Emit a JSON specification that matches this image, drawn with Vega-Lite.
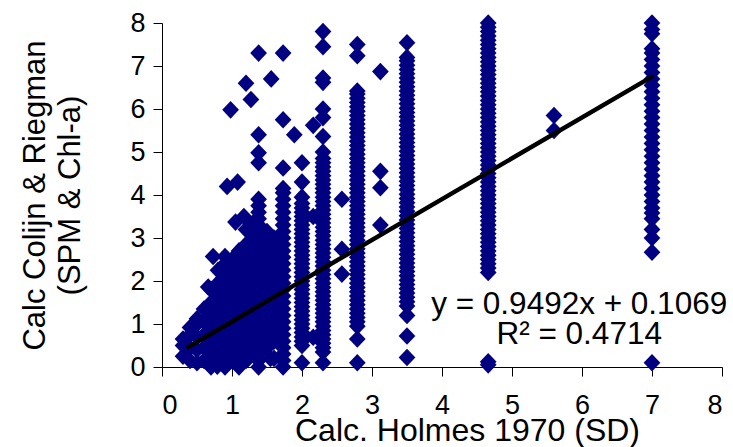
{
  "$schema": "https://vega.github.io/schema/vega-lite/v6.json",
  "autosize": "none",
  "width": 560,
  "height": 344,
  "padding": {"left": 162, "top": 23, "right": 11, "bottom": 80},
  "background": "white",
  "config": {
    "view": {"stroke": null},
    "font": "Liberation Sans",
    "axis": {
      "grid": false,
      "domainColor": "#000000",
      "tickColor": "#000000",
      "labelColor": "#000000",
      "titleColor": "#000000",
      "labelFont": "Liberation Sans",
      "titleFont": "Liberation Sans",
      "titleFontWeight": "normal",
      "labelFontSize": 27,
      "titleFontSize": 31,
      "tickSize": 9,
      "domainWidth": 1,
      "tickWidth": 1
    }
  },
  "datasets": {
    "pts": [
      {"x":0.3,"y":0.25},{"x":0.3,"y":0.5},{"x":0.3,"y":0.65},
      {"x":0.4,"y":0.15},{"x":0.4,"y":0.45},{"x":0.4,"y":0.75},{"x":0.4,"y":0.92},
      {"x":0.5,"y":0.1},{"x":0.5,"y":0.4},{"x":0.5,"y":0.7},{"x":0.5,"y":1.0},{"x":0.5,"y":1.12},
      {"x":0.6,"y":0.15},{"x":0.6,"y":0.45},{"x":0.6,"y":0.75},{"x":0.6,"y":1.05},{"x":0.6,"y":1.35},
      {"x":0.66,"y":1.86},{"x":0.73,"y":2.57},
      {"x":0.7,"y":0.0},{"x":0.7,"y":0.3},{"x":0.7,"y":0.6},{"x":0.7,"y":0.9},{"x":0.7,"y":1.2},{"x":0.7,"y":1.5},{"x":0.7,"y":1.8},
      {"x":0.8,"y":0.15},{"x":0.8,"y":0.45},{"x":0.8,"y":0.75},{"x":0.8,"y":1.05},{"x":0.8,"y":1.35},{"x":0.8,"y":1.65},{"x":0.8,"y":1.95},{"x":0.8,"y":2.25},
      {"x":0.9,"y":0.0},{"x":0.9,"y":0.3},{"x":0.9,"y":0.6},{"x":0.9,"y":0.9},{"x":0.9,"y":1.2},{"x":0.9,"y":1.5},{"x":0.9,"y":1.8},{"x":0.9,"y":2.1},{"x":0.9,"y":2.4},{"x":0.9,"y":2.57},
      {"x":1.0,"y":0.15},{"x":1.0,"y":0.45},{"x":1.0,"y":0.75},{"x":1.0,"y":1.05},{"x":1.0,"y":1.35},{"x":1.0,"y":1.65},{"x":1.0,"y":1.95},{"x":1.0,"y":2.25},{"x":1.0,"y":2.5},
      {"x":1.1,"y":0.0},{"x":1.1,"y":0.3},{"x":1.1,"y":0.6},{"x":1.1,"y":0.9},{"x":1.1,"y":1.2},{"x":1.1,"y":1.5},{"x":1.1,"y":1.8},{"x":1.1,"y":2.1},{"x":1.1,"y":2.4},{"x":1.1,"y":2.7},
      {"x":1.2,"y":0.15},{"x":1.2,"y":0.45},{"x":1.2,"y":0.75},{"x":1.2,"y":1.05},{"x":1.2,"y":1.35},{"x":1.2,"y":1.65},{"x":1.2,"y":1.95},{"x":1.2,"y":2.25},{"x":1.2,"y":2.55},{"x":1.2,"y":2.85},{"x":1.2,"y":3.2},
      {"x":1.3,"y":0.3},{"x":1.3,"y":0.6},{"x":1.3,"y":0.9},{"x":1.3,"y":1.2},{"x":1.3,"y":1.5},{"x":1.3,"y":1.8},{"x":1.3,"y":2.1},{"x":1.3,"y":2.4},{"x":1.3,"y":2.7},{"x":1.3,"y":3.0},{"x":1.3,"y":3.35},
      {"x":1.38,"y":0.0},{"x":1.38,"y":0.15},{"x":1.38,"y":0.3},{"x":1.38,"y":0.45},{"x":1.38,"y":0.6},{"x":1.38,"y":0.75},{"x":1.38,"y":0.9},{"x":1.38,"y":1.05},{"x":1.38,"y":1.2},{"x":1.38,"y":1.35},{"x":1.38,"y":1.5},{"x":1.38,"y":1.65},{"x":1.38,"y":1.8},{"x":1.38,"y":1.95},{"x":1.38,"y":2.1},{"x":1.38,"y":2.25},{"x":1.38,"y":2.4},{"x":1.38,"y":2.55},{"x":1.38,"y":2.7},{"x":1.38,"y":2.85},{"x":1.38,"y":3.0},{"x":1.38,"y":3.15},{"x":1.38,"y":3.3},{"x":1.38,"y":3.45},{"x":1.38,"y":3.6},{"x":1.38,"y":3.75},{"x":1.38,"y":3.9},{"x":1.38,"y":4.75},{"x":1.38,"y":4.98},{"x":1.38,"y":5.4},{"x":1.38,"y":7.3},
      {"x":1.5,"y":0.45},{"x":1.5,"y":0.75},{"x":1.5,"y":1.05},{"x":1.5,"y":1.35},{"x":1.5,"y":1.65},{"x":1.5,"y":1.95},{"x":1.5,"y":2.25},{"x":1.5,"y":2.55},{"x":1.5,"y":2.85},{"x":1.5,"y":3.15},
      {"x":1.23,"y":0.2},{"x":1.55,"y":0.2},{"x":0.79,"y":0.02},
      {"x":1.6,"y":0.2},{"x":1.6,"y":0.6},{"x":1.6,"y":0.9},{"x":1.6,"y":1.2},{"x":1.6,"y":1.5},{"x":1.6,"y":1.8},{"x":1.6,"y":2.1},{"x":1.6,"y":2.4},{"x":1.6,"y":2.7},{"x":1.6,"y":3.0},
      {"x":1.73,"y":0.0},{"x":1.73,"y":0.15},{"x":1.73,"y":0.3},{"x":1.73,"y":0.45},{"x":1.73,"y":0.6},{"x":1.73,"y":0.75},{"x":1.73,"y":0.9},{"x":1.73,"y":1.05},{"x":1.73,"y":1.2},{"x":1.73,"y":1.35},{"x":1.73,"y":1.5},{"x":1.73,"y":1.65},{"x":1.73,"y":1.8},{"x":1.73,"y":1.95},{"x":1.73,"y":2.1},{"x":1.73,"y":2.25},{"x":1.73,"y":2.4},{"x":1.73,"y":2.55},{"x":1.73,"y":2.7},{"x":1.73,"y":2.85},{"x":1.73,"y":3.0},{"x":1.73,"y":3.15},{"x":1.73,"y":3.3},{"x":1.73,"y":3.45},{"x":1.73,"y":3.6},{"x":1.73,"y":3.75},{"x":1.73,"y":3.9},{"x":1.73,"y":4.05},{"x":1.73,"y":4.15},{"x":1.73,"y":4.63},{"x":1.73,"y":5.75},{"x":1.73,"y":7.3},
      {"x":0.93,"y":4.2},{"x":1.08,"y":4.3},{"x":1.2,"y":6.6},{"x":1.27,"y":6.22},{"x":0.98,"y":5.98},{"x":1.56,"y":6.7},{"x":1.89,"y":5.4},{"x":1.17,"y":3.5},{"x":1.05,"y":3.37},{"x":1.58,"y":3.0},
      {"x":2.0,"y":0.1},{"x":2.0,"y":0.5},{"x":2.0,"y":0.6},{"x":2.0,"y":0.7},{"x":2.0,"y":0.8},{"x":2.0,"y":0.9},{"x":2.0,"y":1.0},{"x":2.0,"y":1.1},{"x":2.0,"y":1.2},{"x":2.0,"y":1.3},{"x":2.0,"y":1.4},{"x":2.0,"y":1.5},{"x":2.0,"y":1.6},{"x":2.0,"y":1.7},{"x":2.0,"y":1.8},{"x":2.0,"y":1.9},{"x":2.0,"y":2.0},{"x":2.0,"y":2.1},{"x":2.0,"y":2.2},{"x":2.0,"y":2.3},{"x":2.0,"y":2.4},{"x":2.0,"y":2.5},{"x":2.0,"y":2.6},{"x":2.0,"y":2.7},{"x":2.0,"y":2.8},{"x":2.0,"y":2.9},{"x":2.0,"y":3.0},{"x":2.0,"y":3.1},{"x":2.0,"y":3.2},{"x":2.0,"y":3.3},{"x":2.0,"y":3.4},{"x":2.0,"y":3.5},{"x":2.0,"y":3.6},{"x":2.0,"y":3.7},{"x":2.0,"y":3.8},{"x":2.0,"y":3.95},{"x":2.0,"y":4.3},{"x":2.0,"y":4.75},
      {"x":2.16,"y":0.69},{"x":2.16,"y":3.5},{"x":2.16,"y":5.62},
      {"x":2.3,"y":0.1},{"x":2.3,"y":0.35},{"x":2.3,"y":0.45},{"x":2.3,"y":0.55},{"x":2.3,"y":0.65},{"x":2.3,"y":0.75},{"x":2.3,"y":0.85},{"x":2.3,"y":0.95},{"x":2.3,"y":1.05},{"x":2.3,"y":1.15},{"x":2.3,"y":1.25},{"x":2.3,"y":1.35},{"x":2.3,"y":1.45},{"x":2.3,"y":1.55},{"x":2.3,"y":1.65},{"x":2.3,"y":1.75},{"x":2.3,"y":1.85},{"x":2.3,"y":1.95},{"x":2.3,"y":2.05},{"x":2.3,"y":2.15},{"x":2.3,"y":2.25},{"x":2.3,"y":2.35},{"x":2.3,"y":2.45},{"x":2.3,"y":2.55},{"x":2.3,"y":2.65},{"x":2.3,"y":2.75},{"x":2.3,"y":2.85},{"x":2.3,"y":2.95},{"x":2.3,"y":3.05},{"x":2.3,"y":3.15},{"x":2.3,"y":3.25},{"x":2.3,"y":3.35},{"x":2.3,"y":3.45},{"x":2.3,"y":3.55},{"x":2.3,"y":3.65},{"x":2.3,"y":3.75},{"x":2.3,"y":3.85},{"x":2.3,"y":3.95},{"x":2.3,"y":4.05},{"x":2.3,"y":4.15},{"x":2.3,"y":4.25},{"x":2.3,"y":4.35},{"x":2.3,"y":4.45},{"x":2.3,"y":4.55},{"x":2.3,"y":4.65},{"x":2.3,"y":4.75},{"x":2.3,"y":4.85},{"x":2.3,"y":5.0},{"x":2.3,"y":5.36},{"x":2.3,"y":5.8},{"x":2.3,"y":6.0},{"x":2.3,"y":6.62},{"x":2.3,"y":6.72},{"x":2.3,"y":7.45},{"x":2.3,"y":7.8},
      {"x":2.57,"y":2.16},{"x":2.57,"y":2.74},{"x":2.57,"y":3.9},
      {"x":2.79,"y":0.1},{"x":2.79,"y":0.65},{"x":2.79,"y":0.95},{"x":2.79,"y":1.05},{"x":2.79,"y":1.15},{"x":2.79,"y":1.25},{"x":2.79,"y":1.35},{"x":2.79,"y":1.45},{"x":2.79,"y":1.55},{"x":2.79,"y":1.65},{"x":2.79,"y":1.75},{"x":2.79,"y":1.85},{"x":2.79,"y":1.95},{"x":2.79,"y":2.05},{"x":2.79,"y":2.15},{"x":2.79,"y":2.25},{"x":2.79,"y":2.35},{"x":2.79,"y":2.45},{"x":2.79,"y":2.55},{"x":2.79,"y":2.65},{"x":2.79,"y":2.75},{"x":2.79,"y":2.85},{"x":2.79,"y":2.95},{"x":2.79,"y":3.05},{"x":2.79,"y":3.15},{"x":2.79,"y":3.25},{"x":2.79,"y":3.35},{"x":2.79,"y":3.45},{"x":2.79,"y":3.55},{"x":2.79,"y":3.65},{"x":2.79,"y":3.75},{"x":2.79,"y":3.85},{"x":2.79,"y":3.95},{"x":2.79,"y":4.05},{"x":2.79,"y":4.15},{"x":2.79,"y":4.25},{"x":2.79,"y":4.35},{"x":2.79,"y":4.45},{"x":2.79,"y":4.55},{"x":2.79,"y":4.65},{"x":2.79,"y":4.75},{"x":2.79,"y":4.85},{"x":2.79,"y":4.95},{"x":2.79,"y":5.05},{"x":2.79,"y":5.15},{"x":2.79,"y":5.25},{"x":2.79,"y":5.35},{"x":2.79,"y":5.45},{"x":2.79,"y":5.55},{"x":2.79,"y":5.65},{"x":2.79,"y":5.75},{"x":2.79,"y":5.85},{"x":2.79,"y":5.95},{"x":2.79,"y":6.05},{"x":2.79,"y":6.15},{"x":2.79,"y":6.25},{"x":2.79,"y":6.35},{"x":2.79,"y":6.42},{"x":2.79,"y":7.24},{"x":2.79,"y":7.5},
      {"x":3.12,"y":3.3},{"x":3.12,"y":4.17},{"x":3.12,"y":4.55},{"x":3.12,"y":6.87},
      {"x":3.5,"y":0.22},{"x":3.5,"y":0.72},{"x":3.5,"y":1.2},{"x":3.5,"y":1.42},{"x":3.5,"y":1.52},{"x":3.5,"y":1.62},{"x":3.5,"y":1.72},{"x":3.5,"y":1.82},{"x":3.5,"y":1.92},{"x":3.5,"y":2.02},{"x":3.5,"y":2.12},{"x":3.5,"y":2.22},{"x":3.5,"y":2.32},{"x":3.5,"y":2.42},{"x":3.5,"y":2.52},{"x":3.5,"y":2.62},{"x":3.5,"y":2.72},{"x":3.5,"y":2.82},{"x":3.5,"y":2.92},{"x":3.5,"y":3.02},{"x":3.5,"y":3.12},{"x":3.5,"y":3.22},{"x":3.5,"y":3.32},{"x":3.5,"y":3.42},{"x":3.5,"y":3.52},{"x":3.5,"y":3.62},{"x":3.5,"y":3.72},{"x":3.5,"y":3.82},{"x":3.5,"y":3.92},{"x":3.5,"y":4.02},{"x":3.5,"y":4.12},{"x":3.5,"y":4.22},{"x":3.5,"y":4.32},{"x":3.5,"y":4.42},{"x":3.5,"y":4.52},{"x":3.5,"y":4.62},{"x":3.5,"y":4.72},{"x":3.5,"y":4.82},{"x":3.5,"y":4.92},{"x":3.5,"y":5.02},{"x":3.5,"y":5.12},{"x":3.5,"y":5.22},{"x":3.5,"y":5.32},{"x":3.5,"y":5.42},{"x":3.5,"y":5.52},{"x":3.5,"y":5.62},{"x":3.5,"y":5.72},{"x":3.5,"y":5.82},{"x":3.5,"y":5.92},{"x":3.5,"y":6.02},{"x":3.5,"y":6.12},{"x":3.5,"y":6.22},{"x":3.5,"y":6.32},{"x":3.5,"y":6.42},{"x":3.5,"y":6.52},{"x":3.5,"y":6.62},{"x":3.5,"y":6.72},{"x":3.5,"y":6.82},{"x":3.5,"y":6.92},{"x":3.5,"y":7.02},{"x":3.5,"y":7.12},{"x":3.5,"y":7.2},{"x":3.5,"y":7.54},
      {"x":4.66,"y":0.05},{"x":4.66,"y":0.12},{"x":4.66,"y":2.2},{"x":4.66,"y":2.3},{"x":4.66,"y":2.4},{"x":4.66,"y":2.5},{"x":4.66,"y":2.6},{"x":4.66,"y":2.7},{"x":4.66,"y":2.8},{"x":4.66,"y":2.9},{"x":4.66,"y":3.0},{"x":4.66,"y":3.1},{"x":4.66,"y":3.2},{"x":4.66,"y":3.3},{"x":4.66,"y":3.4},{"x":4.66,"y":3.5},{"x":4.66,"y":3.6},{"x":4.66,"y":3.7},{"x":4.66,"y":3.8},{"x":4.66,"y":3.9},{"x":4.66,"y":4.0},{"x":4.66,"y":4.1},{"x":4.66,"y":4.2},{"x":4.66,"y":4.3},{"x":4.66,"y":4.4},{"x":4.66,"y":4.5},{"x":4.66,"y":4.6},{"x":4.66,"y":4.7},{"x":4.66,"y":4.8},{"x":4.66,"y":4.9},{"x":4.66,"y":5.0},{"x":4.66,"y":5.1},{"x":4.66,"y":5.2},{"x":4.66,"y":5.3},{"x":4.66,"y":5.4},{"x":4.66,"y":5.5},{"x":4.66,"y":5.6},{"x":4.66,"y":5.7},{"x":4.66,"y":5.8},{"x":4.66,"y":5.9},{"x":4.66,"y":6.0},{"x":4.66,"y":6.1},{"x":4.66,"y":6.2},{"x":4.66,"y":6.3},{"x":4.66,"y":6.4},{"x":4.66,"y":6.5},{"x":4.66,"y":6.6},{"x":4.66,"y":6.7},{"x":4.66,"y":6.8},{"x":4.66,"y":6.9},{"x":4.66,"y":7.0},{"x":4.66,"y":7.1},{"x":4.66,"y":7.2},{"x":4.66,"y":7.3},{"x":4.66,"y":7.4},{"x":4.66,"y":7.5},{"x":4.66,"y":7.6},{"x":4.66,"y":7.7},{"x":4.66,"y":7.8},{"x":4.66,"y":7.9},{"x":4.66,"y":8.0},
      {"x":5.6,"y":5.5},{"x":5.6,"y":5.85},
      {"x":7.0,"y":0.1},{"x":7.0,"y":2.67},{"x":7.0,"y":3.0},{"x":7.0,"y":3.2},{"x":7.0,"y":3.45},{"x":7.0,"y":3.58},{"x":7.0,"y":3.7},{"x":7.0,"y":3.85},{"x":7.0,"y":4.0},{"x":7.0,"y":4.15},{"x":7.0,"y":4.3},{"x":7.0,"y":4.45},{"x":7.0,"y":4.6},{"x":7.0,"y":4.75},{"x":7.0,"y":4.9},{"x":7.0,"y":5.05},{"x":7.0,"y":5.2},{"x":7.0,"y":5.35},{"x":7.0,"y":5.5},{"x":7.0,"y":5.65},{"x":7.0,"y":5.8},{"x":7.0,"y":5.95},{"x":7.0,"y":6.1},{"x":7.0,"y":6.25},{"x":7.0,"y":6.4},{"x":7.0,"y":6.55},{"x":7.0,"y":6.7},{"x":7.0,"y":6.85},{"x":7.0,"y":7.0},{"x":7.0,"y":7.15},{"x":7.0,"y":7.3},{"x":7.0,"y":7.4},{"x":7.0,"y":7.75},{"x":7.0,"y":7.85},{"x":7.0,"y":8.0}
    ],
    "fit": [
      {"x": 0.35, "y": 0.439},
      {"x": 7.02, "y": 6.77}
    ],
    "eq": [
      {"x": 5.96, "y": 1.23, "label": "y = 0.9492x + 0.1069"},
      {"x": 5.96, "y": 0.535, "label": "R² = 0.4714"}
    ]
  },
  "layer": [
    {
      "data": {"name": "pts"},
      "mark": {"type": "point", "shape": "M-1,0L0,-1.05L1,0L0,1.05Z", "filled": true, "size": 280, "color": "#000080", "opacity": 1, "strokeWidth": 0, "clip": false},
      "encoding": {
        "x": {
          "field": "x", "type": "quantitative",
          "scale": {"domain": [0, 8], "nice": false, "zero": false},
          "axis": {
            "values": [0, 1, 2, 3, 4, 5, 6, 7, 8],
            "format": "d",
            "title": "Calc. Holmes 1970 (SD)",
            "titleFontSize": 32,
            "labelBaseline": "alphabetic",
            "labelPadding": 37,
            "titleX": 305,
            "titleY": 73,
            "titleBaseline": "alphabetic",
            "titleAlign": "center"
          }
        },
        "y": {
          "field": "y", "type": "quantitative",
          "scale": {"domain": [0, 8], "nice": false, "zero": false},
          "axis": {
            "values": [0, 1, 2, 3, 4, 5, 6, 7, 8],
            "format": "d",
            "title": ["Calc Colijn & Riegman", "(SPM & Chl-a)"],
            "labelPadding": 8,
            "titleAngle": -90,
            "titleX": -118,
            "titleBaseline": "alphabetic",
            "titleAlign": "center",
            "titleLineHeight": 35
          }
        }
      }
    },
    {
      "data": {"name": "fit"},
      "mark": {"type": "line", "color": "#000000", "strokeWidth": 4.5},
      "encoding": {
        "x": {"field": "x", "type": "quantitative"},
        "y": {"field": "y", "type": "quantitative"}
      }
    },
    {
      "data": {"name": "eq"},
      "mark": {"type": "text", "fontSize": 31.5, "font": "Liberation Sans", "color": "#000000", "align": "center", "baseline": "alphabetic"},
      "encoding": {
        "x": {"field": "x", "type": "quantitative"},
        "y": {"field": "y", "type": "quantitative"},
        "text": {"field": "label"}
      }
    }
  ]
}
